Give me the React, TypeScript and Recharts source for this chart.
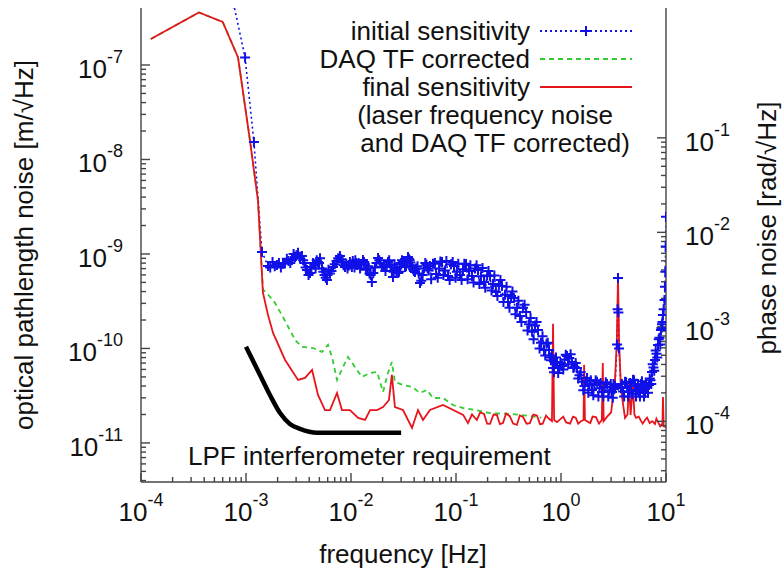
import React from "react";
import { ComposedChart, Line, XAxis, YAxis } from "recharts";

const FONT = '"Liberation Sans", Arial, Helvetica, sans-serif';
const AXIS = "#444";
const MINOR = 5;
const MAJOR = 9;

// frequency [Hz], optical pathlength noise [m/sqrt(Hz)] (listed in reading order, sorted by f below)
const initialSensitivity = [
  [7.6e-4, 4.5e-7], [9.8e-4, 1.2e-7], [1.19e-3, 1.53e-8], [1.42e-3, 1.05e-9],
  [1.62e-3, 7.46e-10], [1.79e-3, 8.2e-10], [1.97e-3, 7.65e-10], [2.15e-3, 7.2e-10],
  [2.35e-3, 8.03e-10], [2.54e-3, 8.4e-10], [2.74e-3, 8.65e-10], [2.93e-3, 9.3e-10],
  [3.13e-3, 1.03e-9], [3.27e-3, 9.0e-10], [3.41e-3, 9.5e-10], [3.6e-3, 8.0e-10],
  [3.81e-3, 6.77e-10], [4.07e-3, 6.3e-10], [4.35e-3, 8.03e-10], [4.6e-3, 7.0e-10],
  [4.85e-3, 8.22e-10], [5.07e-3, 9.0e-10], [5.3e-3, 7.0e-10], [5.6e-3, 6.0e-10],
  [5.9e-3, 5.3e-10], [6.3e-3, 6.2e-10], [6.74e-3, 7.28e-10], [7.27e-3, 8.4e-10],
  [7.85e-3, 9.5e-10], [8.3e-3, 8.2e-10], [8.77e-3, 7.28e-10], [9.26e-3, 7.0e-10],
  [9.77e-3, 8.22e-10], [1.02e-2, 7.3e-10], [1.06e-2, 7.9e-10], [1.1e-2, 8.6e-10],
  [1.14e-2, 7.65e-10], [1.22e-2, 7.0e-10], [1.3e-2, 8.65e-10], [1.36e-2, 7.8e-10],
  [1.42e-2, 7.0e-10], [1.5e-2, 6.2e-10], [1.58e-2, 5.06e-10], [1.69e-2, 7.2e-10],
  [1.81e-2, 9.07e-10], [1.91e-2, 8.0e-10], [2.02e-2, 7.28e-10], [2.13e-2, 6.6e-10],
  [2.25e-2, 8.2e-10], [2.38e-2, 7.6e-10], [2.51e-2, 5.71e-10], [2.6e-2, 7.8e-10],
  [2.7e-2, 6.6e-10], [2.81e-2, 6.3e-10], [2.93e-2, 7.28e-10], [3.06e-2, 8.6e-10],
  [3.2e-2, 8.0e-10], [3.34e-2, 7.4e-10], [3.49e-2, 9.3e-10], [3.62e-2, 8.6e-10],
  [3.75e-2, 7.6e-10], [3.9e-2, 6.9e-10], [4.07e-2, 6.45e-10], [4.3e-2, 7.4e-10],
  [4.54e-2, 4.93e-10], [4.81e-2, 6.0e-10], [5.1e-2, 8.03e-10], [5.37e-2, 7.0e-10],
  [5.65e-2, 7.46e-10], [6.04e-2, 7.9e-10], [6.46e-2, 6.14e-10], [6.9e-2, 7.0e-10],
  [7.36e-2, 8.22e-10], [7.86e-2, 6.7e-10], [8.39e-2, 5.85e-10], [8.96e-2, 7.8e-10],
  [9.57e-2, 7.46e-10], [0.102, 6.5e-10], [0.109, 6.0e-10], [0.1165, 6.9e-10],
  [0.1245, 7.83e-10], [0.133, 6.6e-10], [0.142, 5.85e-10], [0.152, 7.0e-10],
  [0.162, 6.78e-10], [0.173, 5.8e-10], [0.185, 5.06e-10], [0.198, 5.9e-10],
  [0.211, 5.85e-10], [0.225, 4.8e-10], [0.24, 3.96e-10], [0.256, 4.6e-10],
  [0.274, 4.58e-10], [0.293, 3.7e-10], [0.313, 3.1e-10], [0.334, 3.6e-10],
  [0.356, 3.42e-10], [0.38, 2.7e-10], [0.407, 2.21e-10], [0.435, 2.7e-10],
  [0.465, 2.43e-10], [0.496, 1.8e-10], [0.53, 1.5e-10], [0.566, 1.75e-10],
  [0.604, 1.57e-10], [0.645, 1.15e-10], [0.689, 9.64e-11], [0.728, 1.12e-10],
  [0.769, 9.64e-11], [0.803, 7.5e-11], [0.839, 6.22e-11], [0.877, 7.0e-11],
  [0.916, 7.19e-11], [0.968, 6.2e-11], [1.023, 6.53e-11], [1.08, 7.6e-11],
  [1.14, 8.34e-11], [1.2, 7.9e-11], [1.274, 7.19e-11], [1.345, 6.4e-11],
  [1.42, 6.22e-11], [1.5, 5.2e-11], [1.585, 4.43e-11], [1.675, 4.0e-11],
  [1.77, 4.88e-11], [1.87, 4.2e-11], [1.972, 3.64e-11], [2.08, 4.1e-11],
  [2.203, 4.43e-11], [2.33, 3.8e-11], [2.455, 3.47e-11], [2.6, 3.9e-11],
  [2.742, 4.21e-11], [2.9, 3.6e-11], [3.062, 3.47e-11], [3.16, 4.2e-11],
  [3.266, 4.01e-11], [3.42, 1.1e-10], [3.46, 2.6e-10], [3.49, 5.57e-10],
  [3.52, 2.4e-10], [3.57, 1.0e-10], [3.724, 3.82e-11], [3.9, 3.5e-11],
  [4.074, 4.43e-11], [4.26, 3.9e-11], [4.446, 3.47e-11], [4.65, 4.0e-11],
  [4.853, 4.65e-11], [5.07, 4.0e-11], [5.297, 3.64e-11], [5.53, 3.5e-11],
  [5.781, 4.21e-11], [6.04, 3.7e-11], [6.31, 3.38e-11], [6.6, 3.9e-11],
  [6.887, 4.11e-11], [7.12, 4.6e-11], [7.36, 5.64e-11], [7.6, 6.3e-11],
  [7.85, 7.55e-11], [8.12, 8.8e-11], [8.39, 1.09e-10], [8.67, 1.3e-10],
  [8.95, 1.57e-10], [9.15, 1.8e-10], [9.35, 2.26e-10], [9.68, 3.26e-10],
  [9.85, 6.5e-10], [9.93, 1.2e-9], [10, 2.47e-9],
  // second pass over the band edges
  [1.7e-3, 7.2e-10], [1.88e-3, 7.4e-10], [2.06e-3, 8.0e-10], [2.25e-3, 7.9e-10],
  [2.45e-3, 8.9e-10], [2.64e-3, 8.0e-10], [2.84e-3, 1.0e-9], [3.03e-3, 9.7e-10],
  [3.5e-3, 8.6e-10], [3.7e-3, 7.2e-10], [3.94e-3, 6.0e-10], [4.2e-3, 7.3e-10],
  [4.47e-3, 7.7e-10], [4.72e-3, 8.6e-10], [4.96e-3, 8.0e-10], [5.45e-3, 6.5e-10],
  [5.75e-3, 5.6e-10], [6.1e-3, 6.8e-10], [6.52e-3, 6.6e-10], [7.0e-3, 7.8e-10],
  [7.55e-3, 9.0e-10], [8.07e-3, 8.8e-10], [8.53e-3, 7.6e-10], [9.0e-3, 7.9e-10],
  [9.5e-3, 7.5e-10], [1.04e-2, 8.4e-10], [1.08e-2, 7.2e-10], [1.12e-2, 8.0e-10],
  [1.18e-2, 8.0e-10], [1.26e-2, 7.7e-10], [1.33e-2, 8.2e-10], [1.39e-2, 6.8e-10],
  [1.46e-2, 7.4e-10], [1.54e-2, 6.0e-10], [1.63e-2, 6.3e-10], [1.75e-2, 8.0e-10],
  [1.86e-2, 8.6e-10], [1.96e-2, 7.3e-10], [2.07e-2, 7.7e-10], [2.19e-2, 7.3e-10],
  [2.31e-2, 8.6e-10], [2.45e-2, 6.6e-10], [2.55e-2, 6.5e-10], [2.65e-2, 7.2e-10],
  [2.76e-2, 7.0e-10], [2.87e-2, 6.5e-10], [3.0e-2, 8.0e-10], [3.13e-2, 8.3e-10],
  [3.27e-2, 7.3e-10], [3.41e-2, 8.4e-10], [3.56e-2, 8.9e-10], [3.68e-2, 8.1e-10],
  [3.82e-2, 7.2e-10], [3.98e-2, 6.6e-10], [4.18e-2, 7.0e-10], [4.42e-2, 6.2e-10],
  [4.67e-2, 5.2e-10], [4.95e-2, 7.0e-10], [5.23e-2, 7.7e-10], [5.5e-2, 6.7e-10],
  [0.058, 5.4e-10], [0.063, 8.0e-10], [0.067, 5.6e-10], [0.071, 8.3e-10],
  [0.076, 6.0e-10], [0.081, 8.4e-10], [0.087, 5.3e-10], [0.093, 8.2e-10],
  [0.099, 5.6e-10], [0.105, 7.9e-10], [0.113, 5.3e-10], [0.12, 7.9e-10],
  [0.129, 5.4e-10], [0.137, 7.6e-10], [0.147, 5.0e-10], [0.157, 7.6e-10],
  [0.167, 4.8e-10], [0.179, 7.1e-10], [0.19, 4.4e-10], [0.204, 6.6e-10],
  [0.218, 4.1e-10], [0.232, 5.9e-10], [0.248, 3.6e-10], [0.265, 5.3e-10],
  [0.283, 3.1e-10], [0.303, 4.5e-10], [0.323, 2.7e-10], [0.345, 4.0e-10],
  [0.368, 2.3e-10], [0.393, 3.2e-10], [0.42, 1.9e-10], [0.45, 2.9e-10],
  [0.48, 1.55e-10], [0.513, 2.1e-10], [0.548, 1.25e-10], [0.585, 1.9e-10],
  [0.625, 1.0e-10], [0.667, 1.35e-10], [0.708, 8.4e-11], [0.748, 1.15e-10],
  [0.786, 8.0e-11], [0.82, 8.4e-11], [0.858, 5.6e-11], [0.896, 8.0e-11],
  [0.94, 5.5e-11], [0.995, 7.0e-11], [1.05, 6.0e-11], [1.11, 8.6e-11],
  [1.17, 6.8e-11], [1.235, 8.7e-11], [1.31, 6.2e-11], [1.38, 7.0e-11],
  [1.46, 4.8e-11], [1.54, 5.6e-11], [1.63, 3.6e-11], [1.72, 4.5e-11],
  [1.82, 3.4e-11], [1.92, 4.6e-11], [2.03, 3.2e-11], [2.14, 4.6e-11],
  [2.27, 3.1e-11], [2.39, 4.3e-11], [2.53, 3.1e-11], [2.67, 4.4e-11],
  [2.82, 3.1e-11], [2.98, 4.2e-11], [3.11, 3.0e-11], [3.21, 3.7e-11],
  [3.8, 4.2e-11], [3.99, 3.1e-11], [4.17, 4.4e-11], [4.35, 3.1e-11],
  [4.55, 4.3e-11], [4.75, 3.3e-11], [4.96, 4.6e-11], [5.18, 3.1e-11],
  [5.41, 4.2e-11], [5.65, 3.1e-11], [5.9, 4.5e-11], [6.17, 3.1e-11],
  [6.45, 4.3e-11], [6.74, 3.4e-11], [7.0, 4.8e-11], [7.24, 4.2e-11],
  [7.48, 6.8e-11], [7.72, 5.8e-11], [7.98, 9.5e-11], [8.25, 8.0e-11],
  [8.53, 1.25e-10], [8.81, 1.1e-10], [9.05, 1.65e-10], [9.25, 1.9e-10],
  [9.5, 2.6e-10], [9.77, 4.5e-10],
];

const daqCorrected = [
  [1.24e-4, 1.88e-7], [3.56e-4, 3.6e-7], [6.0e-4, 2.85e-7], [8.4e-4, 1.2e-7],
  [1.09e-3, 1.6e-8], [1.3e-3, 3.7e-9], [1.45e-3, 4.2e-10], [1.58e-3, 3.86e-10],
  [1.89e-3, 3.03e-10], [2.25e-3, 2.15e-10], [2.62e-3, 1.57e-10], [2.93e-3, 1.23e-10],
  [3.41e-3, 1.04e-10], [4.35e-3, 1.01e-10], [5.3e-3, 9.19e-11], [6.04e-3, 1.09e-10],
  [6.59e-3, 8.13e-11], [7.36e-3, 4.65e-11], [8.4e-3, 6.37e-11], [9.35e-3, 8.13e-11],
  [1.09e-2, 6.37e-11], [1.27e-2, 4.99e-11], [1.52e-2, 5.5e-11], [1.77e-2, 5.64e-11],
  [2.02e-2, 3.47e-11], [2.25e-2, 5.5e-11], [2.45e-2, 7.2e-11], [2.62e-2, 4.42e-11],
  [3.13e-2, 4.11e-11], [3.81e-2, 3.92e-11], [4.54e-2, 3.38e-11], [5.3e-2, 3.64e-11],
  [6.04e-2, 2.99e-11], [7.52e-2, 2.99e-11], [9.35e-2, 2.52e-11], [0.117, 2.34e-11],
  [0.152, 2.23e-11], [0.211, 2.07e-11], [0.327, 2.03e-11], [0.507, 1.93e-11],
  [0.65, 1.85e-11],
];

const finalSensitivity = [
  [1.24e-4, 1.88e-7], [3.56e-4, 3.6e-7], [6.0e-4, 2.85e-7], [8.4e-4, 1.2e-7],
  [1.09e-3, 1.6e-8], [1.3e-3, 3.7e-9], [1.45e-3, 3.9e-10], [1.62e-3, 2.26e-10],
  [1.81e-3, 1.46e-10], [2.35e-3, 7.6e-11], [3.13e-3, 4.65e-11], [3.65e-3, 4.88e-11],
  [4.26e-3, 5.92e-11], [4.85e-3, 3.22e-11], [5.65e-3, 2.23e-11], [6.31e-3, 2.23e-11],
  [7.36e-3, 3.38e-11], [8.2e-3, 2.23e-11], [9.77e-3, 2.23e-11], [1.17e-2, 1.84e-11],
  [1.36e-2, 1.75e-11], [1.52e-2, 2.23e-11], [1.77e-2, 2.23e-11], [2.02e-2, 2.4e-11],
  [2.3e-2, 2.85e-11], [2.45e-2, 5.25e-11], [2.62e-2, 2.4e-11], [3.13e-2, 2.23e-11],
  [3.81e-2, 1.44e-11], [4.35e-2, 2.23e-11], [4.85e-2, 1.75e-11], [5.65e-2, 2.23e-11],
  [7.52e-2, 2.52e-11], [0.117, 1.98e-11], [0.13, 1.62e-11], [0.142, 2.0e-11],
  [0.158, 1.75e-11], [0.17, 2.1e-11], [0.185, 2.03e-11], [0.198, 1.6e-11],
  [0.211, 1.59e-11], [0.228, 2.0e-11], [0.245, 1.98e-11], [0.262, 1.58e-11],
  [0.28, 1.62e-11], [0.3, 2.05e-11], [0.325, 1.92e-11], [0.35, 1.6e-11],
  [0.38, 1.55e-11], [0.405, 1.95e-11], [0.435, 1.88e-11], [0.47, 1.6e-11],
  [0.505, 1.62e-11], [0.545, 2.0e-11], [0.59, 1.95e-11], [0.63, 1.58e-11],
  [0.67, 1.6e-11], [0.72, 1.95e-11], [0.77, 1.8e-11], [0.82, 1.7e-11],
  [0.84, 1.82e-10], [0.86, 1.75e-11], [0.916, 1.66e-11], [1.05, 1.9e-11],
  [1.12, 1.65e-11], [1.22, 1.6e-11], [1.3, 1.9e-11], [1.38, 1.85e-11],
  [1.46, 1.6e-11], [1.55, 1.7e-11], [1.64, 1.75e-11], [1.66, 6.7e-11],
  [1.69, 1.75e-11], [1.9, 1.62e-11], [2.0, 1.9e-11], [2.15, 1.88e-11],
  [2.3, 1.6e-11], [2.45, 1.75e-11], [2.5, 7.0e-11], [2.55, 1.7e-11],
  [2.75, 1.9e-11], [3.0, 2.1e-11], [3.27, 4.65e-11], [3.4, 1.2e-10],
  [3.49, 5.6e-10], [3.58, 1.1e-10], [3.73, 3.64e-11], [4.07, 1.84e-11],
  [4.3, 2.0e-11], [4.45, 4.3e-11], [4.6, 1.98e-11], [4.85, 4.1e-11],
  [5.0, 2.0e-11], [5.18, 1.84e-11], [5.5, 1.9e-11], [5.8, 1.7e-11],
  [6.0, 1.6e-11], [6.31, 1.75e-11], [6.6, 1.85e-11], [7.0, 1.62e-11],
  [7.4, 1.7e-11], [7.85, 1.59e-11], [8.1, 1.8e-11], [8.5, 1.62e-11],
  [8.8, 1.5e-11], [9.0, 1.55e-11], [9.25, 1.6e-11], [9.36, 3.07e-11],
  [9.5, 1.5e-11], [10, 1.48e-11],
];

const lpfRequirement = [
  [1e-3, 1.04e-10], [1.36e-3, 5.25e-11], [1.69e-3, 3.22e-11], [2.11e-3, 2.07e-11],
  [2.62e-3, 1.59e-11], [3.27e-3, 1.41e-11], [4.74e-3, 1.28e-11], [7.85e-3, 1.28e-11],
  [3e-2, 1.28e-11],
];

// axes
const freqDomain = [1e-4, 10];
const pathDomain = [3.86e-12, 4.01e-7];
const phasePerMetre = (2 * Math.PI) / 1.064e-6;
const phaseDomain = pathDomain.map((d) => d * phasePerMetre);

const freqDecades = [-4, -3, -2, -1, 0, 1];
const pathDecades = [-11, -10, -9, -8, -7];
const phaseDecades = [-4, -3, -2, -1];

const legendLabels = ["initial sensitivity", "DAQ TF corrected", "final sensitivity"];
const legendNote = ["(laser frequency noise", "and DAQ TF corrected)"];

const toRows = (pts: number[][]) =>
  [...pts].sort((a, b) => a[0] - b[0]).map(([f, v]) => ({ f, v }));

const logTicks = (decades: number[], lo: number, hi: number) => {
  const out: number[] = [];
  const first = decades[0] - 1;
  const last = decades[decades.length - 1];
  for (let e = first; e <= last; e++) {
    for (let m = 1; m <= 9; m++) {
      const v = m * Math.pow(10, e);
      if (v >= lo * 0.999 && v <= hi * 1.001) out.push(v);
    }
  }
  return out;
};

const isMajor = (v: number) => {
  const l = Math.log10(v);
  return Math.abs(l - Math.round(l)) < 1e-6;
};

const Pow = ({ x, y, exp, anchor }: any) => (
  <text x={x} y={y} textAnchor={anchor} fontSize={26} fontFamily={FONT} fill="#111" stroke="none">
    <tspan>10</tspan>
    <tspan dy={-15} fontSize={18}>{exp}</tspan>
  </text>
);

const ext = MAJOR - MINOR;

// built-in tick lines give the minor length (inward); majors get an extension
const BottomTick = (props: any) => {
  const { x, y, payload } = props;
  if (!isMajor(payload.value)) return <g />;
  return (
    <g>
      <line x1={x} y1={y} x2={x} y2={y - ext} stroke={AXIS} strokeWidth={1.4} />
      <Pow x={x} y={y + MINOR + 39} exp={Math.round(Math.log10(payload.value))} anchor="middle" />
    </g>
  );
};

const TopTick = (props: any) => {
  const { x, y, payload } = props;
  if (!isMajor(payload.value)) return <g />;
  return <line x1={x} y1={y} x2={x} y2={y + ext} stroke={AXIS} strokeWidth={1.4} />;
};

const LeftTick = (props: any) => {
  const { x, y, payload } = props;
  if (!isMajor(payload.value)) return <g />;
  return (
    <g>
      <line x1={x} y1={y} x2={x + ext} y2={y} stroke={AXIS} strokeWidth={1.4} />
      <Pow x={x - MINOR - 18} y={y + 13} exp={Math.round(Math.log10(payload.value))} anchor="end" />
    </g>
  );
};

const RightTick = (props: any) => {
  const { x, y, payload } = props;
  if (!isMajor(payload.value)) return <g />;
  return (
    <g>
      <line x1={x} y1={y} x2={x - ext} y2={y} stroke={AXIS} strokeWidth={1.4} />
      <Pow x={x + MINOR + 19} y={y + 13} exp={Math.round(Math.log10(payload.value))} anchor="start" />
    </g>
  );
};

const Cross = (props: any) => {
  const { cx, cy, index } = props;
  if (cx == null || cy == null) return <g key={index} />;
  return (
    <path
      key={index}
      d={`M${cx - 5},${cy}h10M${cx},${cy - 5}v10`}
      stroke="#1010e8"
      strokeWidth={2}
      fill="none"
    />
  );
};

const freqTicks = logTicks(freqDecades, freqDomain[0], freqDomain[1]);
const pathTicks = logTicks(pathDecades, pathDomain[0], 1e-7);
const phaseTicks = logTicks(phaseDecades, phaseDomain[0], 0.1);

const axisCommon = {
  type: "number" as const,
  scale: "log" as const,
  allowDataOverflow: true,
  interval: 0 as const,
  tickSize: -MINOR,
  tickMargin: 0,
  tickLine: { stroke: AXIS, strokeWidth: 1.4 },
  axisLine: { stroke: AXIS, strokeWidth: 1.4 },
};

const Overlay = () => (
  <svg
    width={782}
    height={569}
    style={{ position: "absolute", left: 0, top: 0, pointerEvents: "none" }}
    fontFamily={FONT}
    fontSize={26}
    fill="#111"
  >
    {legendLabels.map((t, i) => (
      <text key={t} x={530} y={40 + i * 28} textAnchor="end">{t}</text>
    ))}
    <text x={613} y={124} textAnchor="end">{legendNote[0]}</text>
    <text x={630} y={152} textAnchor="end">{legendNote[1]}</text>
    <line x1={540} y1={31} x2={632} y2={31} stroke="#1010e8" strokeWidth={2} strokeDasharray="2 3" />
    <path d="M581,31h10M586,26v10" stroke="#1010e8" strokeWidth={2} />
    <line x1={540} y1={59} x2={632} y2={59} stroke="#33cc33" strokeWidth={1.8} strokeDasharray="5 4" />
    <line x1={540} y1={87} x2={632} y2={87} stroke="#e8141c" strokeWidth={1.8} />

    <text x={188} y={465}>LPF interferometer requirement</text>
    <text x={403} y={563} textAnchor="middle">frequency [Hz]</text>
    <text x={33} y={245} textAnchor="middle" transform="rotate(-90 33 245)">
      optical pathlength noise [m/√Hz]
    </text>
    <text x={776} y={228} textAnchor="middle" transform="rotate(-90 776 228)">
      phase noise [rad/√Hz]
    </text>
  </svg>
);

export default function App() {
  return (
    <div style={{ position: "absolute", left: 0, top: 0, width: 782, height: 569, background: "#fff" }}>
      <ComposedChart width={782} height={569} margin={{ top: 8, right: 0, bottom: 0, left: 0 }}>
        <XAxis {...axisCommon} dataKey="f" domain={freqDomain} ticks={freqTicks} height={87} tick={BottomTick} />
        <XAxis
          {...axisCommon}
          xAxisId="top"
          orientation="top"
          dataKey="f"
          domain={freqDomain}
          ticks={freqTicks}
          height={0}
          tick={TopTick}
        />
        <YAxis {...axisCommon} domain={pathDomain} ticks={pathTicks} width={141} tick={LeftTick} />
        <YAxis
          {...axisCommon}
          yAxisId="phase"
          orientation="right"
          domain={phaseDomain}
          ticks={phaseTicks}
          width={116}
          tick={RightTick}
        />
        <Line
          data={toRows(initialSensitivity)}
          dataKey="v"
          type="linear"
          stroke="#1010e8"
          strokeWidth={1.6}
          strokeDasharray="2 3"
          dot={Cross}
          activeDot={false}
          isAnimationActive={false}
        />
        <Line
          data={toRows(daqCorrected)}
          dataKey="v"
          type="linear"
          stroke="#33cc33"
          strokeWidth={1.8}
          strokeDasharray="5 4"
          dot={false}
          activeDot={false}
          isAnimationActive={false}
        />
        <Line
          data={toRows(finalSensitivity)}
          dataKey="v"
          type="linear"
          stroke="#e8141c"
          strokeWidth={1.8}
          dot={false}
          activeDot={false}
          isAnimationActive={false}
        />
        <Line
          data={toRows(lpfRequirement)}
          dataKey="v"
          type="monotone"
          stroke="#000"
          strokeWidth={4.5}
          dot={false}
          activeDot={false}
          isAnimationActive={false}
        />
      </ComposedChart>
      <Overlay />
    </div>
  );
}
